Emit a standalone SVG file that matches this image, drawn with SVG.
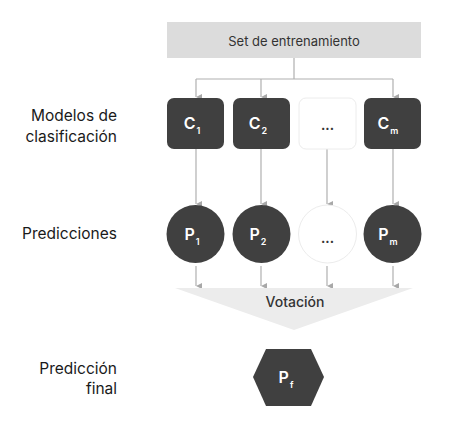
<svg xmlns="http://www.w3.org/2000/svg" width="465" height="429" viewBox="0 0 465 429">
<defs>
<marker id="ah" viewBox="0 0 6 6" refX="3" refY="6" markerWidth="6" markerHeight="6" orient="auto-start-reverse" markerUnits="userSpaceOnUse">
<path d="M0,0 L6,0 L3,6 Z" fill="#a8a8a8"/>
</marker>
<style>
.lbl{font-family:Inter,"Noto Sans",sans-serif;font-size:15.5px;fill:#1a1a1a;text-anchor:end}
.t{font-family:Inter,"Noto Sans",sans-serif;fill:#333}
.w{font-family:Inter,"Noto Sans",sans-serif;fill:#ffffff;font-weight:600}
.dark{fill:#404040}
.ln{stroke:#b0b0b0;stroke-width:1.2;fill:none}
.ghost{fill:#ffffff;stroke:#ececec;stroke-width:1}
</style>
</defs>
<rect width="465" height="429" fill="#ffffff"/>
<g id="labels">
<text class="lbl" x="117" y="121">Modelos de</text>
<text class="lbl" x="117" y="142">clasificación</text>
<text class="lbl" x="117" y="239">Predicciones</text>
<text class="lbl" x="117" y="374">Predicción</text>
<text class="lbl" x="117" y="394">final</text>
</g>
<g id="connectors">
<path class="ln" d="M294,58 V79 M196,79 H393"/>
<path class="ln" d="M196,79 V97" marker-end="url(#ah)"/>
<path class="ln" d="M261,79 V97" marker-end="url(#ah)"/>
<path class="ln" d="M393,79 V97" marker-end="url(#ah)"/>
<path class="ln" d="M196,149 V204" marker-end="url(#ah)"/>
<path class="ln" d="M261,149 V204" marker-end="url(#ah)"/>
<path class="ln" d="M327,149 V204" marker-end="url(#ah)"/>
<path class="ln" d="M393,149 V204" marker-end="url(#ah)"/>
<path class="ln" d="M196,266 V286" marker-end="url(#ah)"/>
<path class="ln" d="M261,266 V286" marker-end="url(#ah)"/>
<path class="ln" d="M327,266 V286" marker-end="url(#ah)"/>
<path class="ln" d="M393,266 V286" marker-end="url(#ah)"/>
</g>
<g id="training">
<rect x="167" y="22" width="254" height="36" fill="#dcdcdc"/>
<text class="t" x="294" y="46" font-size="13" text-anchor="middle">Set de entrenamiento</text>
</g>
<g id="c1"><rect class="dark" x="167" y="98" width="57" height="51" rx="7"/><text class="w" x="192" y="129" font-size="16" text-anchor="middle">C<tspan font-size="9" dx="1" dy="5">1</tspan></text></g>
<g id="c2"><rect class="dark" x="233" y="98" width="57" height="51" rx="7"/><text class="w" x="258" y="129" font-size="16" text-anchor="middle">C<tspan font-size="9" dx="1" dy="5">2</tspan></text></g>
<g id="cdots"><rect class="ghost" x="299" y="98" width="57" height="51" rx="7"/><text class="t" x="327.5" y="130" font-size="13" font-weight="700" text-anchor="middle" fill="#444">...</text></g>
<g id="cm"><rect class="dark" x="364" y="98" width="57" height="51" rx="7"/><text class="w" x="388" y="129" font-size="16" text-anchor="middle">C<tspan font-size="9" dx="1" dy="5">m</tspan></text></g>
<g id="p1"><circle class="dark" cx="195.5" cy="234" r="29"/><text class="w" x="192" y="240" font-size="16" text-anchor="middle">P<tspan font-size="9" dx="1" dy="5">1</tspan></text></g>
<g id="p2"><circle class="dark" cx="261.5" cy="234" r="29"/><text class="w" x="258" y="240" font-size="16" text-anchor="middle">P<tspan font-size="9" dx="1" dy="5">2</tspan></text></g>
<g id="pdots"><circle class="ghost" cx="327.5" cy="234" r="29"/><text class="t" x="327.5" y="243" font-size="13" font-weight="700" text-anchor="middle" fill="#444">...</text></g>
<g id="pm"><circle class="dark" cx="392.5" cy="234" r="29"/><text class="w" x="388" y="240" font-size="16" text-anchor="middle">P<tspan font-size="9" dx="1" dy="5">m</tspan></text></g>
<g id="votacion">
<path d="M175,288 H413 L294,330 Z" fill="#ececec"/>
<text class="t" x="295" y="307" font-size="14" font-weight="500" text-anchor="middle">Votación</text>
</g>
<g id="pf">
<path class="dark" d="M253,377 L266,349 H311 L324,377 L311,406 H266 Z"/>
<text class="w" x="286" y="383" font-size="16" text-anchor="middle">P<tspan font-size="9" dx="1" dy="5">f</tspan></text>
</g>
</svg>
